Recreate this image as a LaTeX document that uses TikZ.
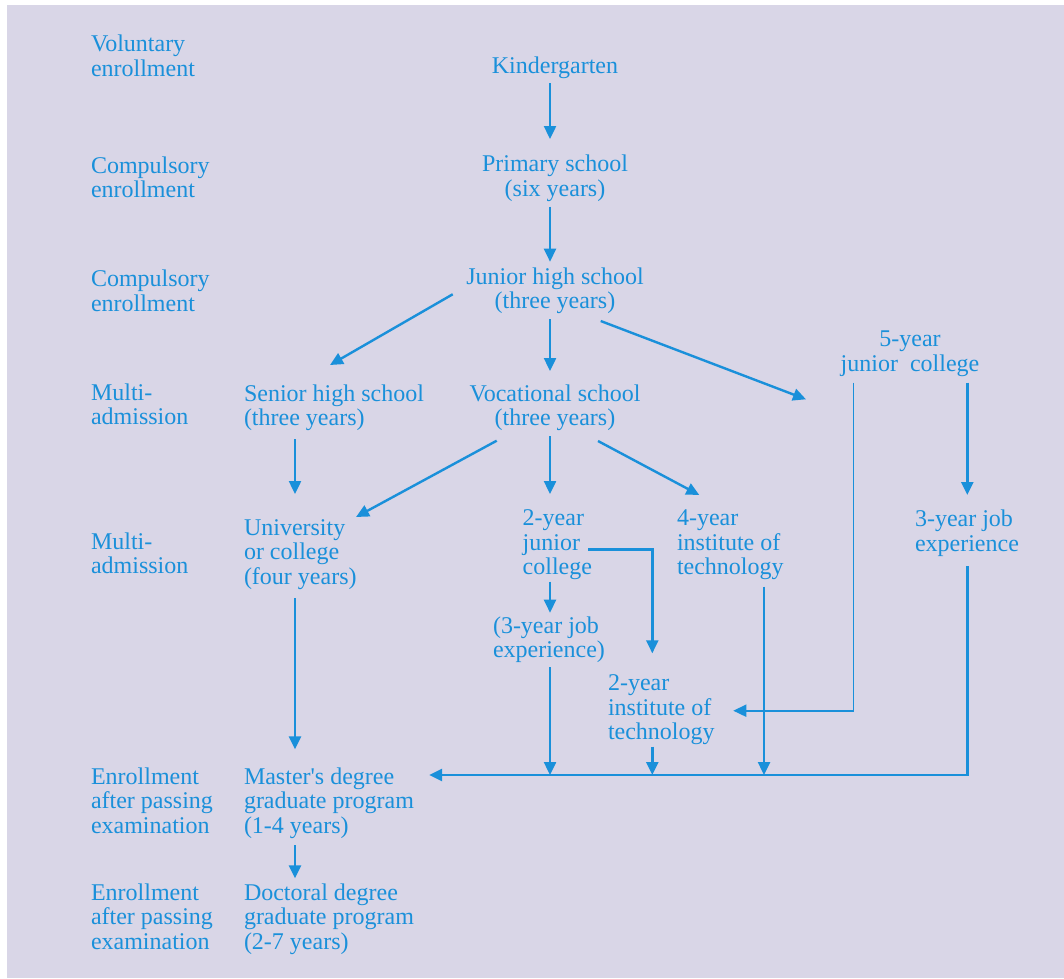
\documentclass[tikz,border=0pt]{standalone}
\usepackage{fontspec}
\setmainfont{Liberation Serif}
\usetikzlibrary{arrows.meta}
\definecolor{bgc}{RGB}{217,214,231}
\definecolor{blu}{RGB}{26,144,218}
\newcommand{\fl}{\rule{0pt}{18pt}}
\newcommand{\dl}{\rule[-6pt]{0pt}{6pt}}
\tikzset{
  lab/.style={font=\fontsize{24}{24.5}\selectfont, text=blu, inner sep=0pt, outer sep=0pt},
  ln/.style={lab, anchor=north west, align=left},
  cn/.style={lab, anchor=north, align=center},
  arr/.style={draw=blu, line width=2.4pt, -{Triangle[length=13pt,width=12pt]}},
  arrthin/.style={draw=blu, line width=1.6pt, -{Triangle[length=13pt,width=12pt]}},
  linethin/.style={draw=blu, line width=1.3pt},
}
\begin{document}
\begin{tikzpicture}[x=1pt,y=-1pt]
\useasboundingbox (0,0) rectangle (1064,978);
\fill[white] (0,0) rectangle (1064,978);
\fill[bgc] (7,5) rectangle (1064,978);

% left column labels
\node[ln] (l1) at (91,33.7) {\fl Voluntary\\enrollment\dl};
\node[ln] (l2) at (91,155.3) {\fl Compulsory\\enrollment\dl};
\node[ln] (l3) at (91,268.7) {\fl Compulsory\\enrollment\dl};
\node[ln] (l4) at (91,382) {\fl Multi-\\admission\dl};
\node[ln] (l5) at (91,531) {\fl Multi-\\admission\dl};
\node[ln] (l6) at (91,766) {\fl Enrollment\\after passing\\examination\dl};
\node[ln] (l7) at (91,882) {\fl Enrollment\\after passing\\examination\dl};

% main nodes
\node[cn] (kg) at (555,55) {\fl Kindergarten\dl};
\node[cn] (ps) at (555,153.7) {\fl Primary school\\(six years)\dl};
\node[cn] (jh) at (555,266) {\fl Junior high school\\(three years)\dl};
\node[cn] (voc) at (555,383) {\fl Vocational school\\(three years)\dl};
\node[cn] (fy) at (910,328.7) {\fl 5-year\\junior \ college\dl};
\node[ln] (sh) at (244,383) {\fl Senior high school\\(three years)\dl};
\node[ln] (un) at (244,517) {\fl University\\or college\\(four years)\dl};
\node[ln] (jc2) at (522.7,507.7) {\fl 2-year\\junior\\college\dl};
\node[ln] (it4) at (677,507.7) {\fl 4-year\\institute of\\technology\dl};
\node[ln] (job) at (915,508.7) {\fl 3-year job\\experience\dl};
\node[ln] (jobp) at (493,615.3) {\fl (3-year job\\experience)\dl};
\node[ln] (it2) at (608,672.7) {\fl 2-year\\institute of\\technology\dl};
\node[ln] (ms) at (244,766.3) {\fl Master\textquotesingle s degree\\graduate program\\(1-4 years)\dl};
\node[ln] (dr) at (244,882) {\fl Doctoral degree\\graduate program\\(2-7 years)\dl};

% connectors
\draw[arr] ([xshift=-5pt,yshift=-4pt]kg.south) -- ([xshift=-5pt,yshift=14.7pt]ps.north);
\draw[arr] ([xshift=-5pt,yshift=-4.5pt]ps.south) -- ([xshift=-5pt,yshift=4.3pt]jh.north);
\draw[arr] ([xshift=-13.6pt,yshift=-4pt]jh.west) -- ([xshift=86pt,yshift=18pt]sh.north west);
\draw[arr] ([xshift=-5pt,yshift=-4.5pt]jh.south) -- ([xshift=-5pt,yshift=12pt]voc.north);
\draw[arr] ([xshift=45.7pt,yshift=-6.5pt]jh.south) -- ([xshift=-34.7pt,yshift=-22.1pt]fy.south west);
\draw[arr] ([xshift=51pt,yshift=-7.8pt]sh.south west) -- ([xshift=51pt,yshift=23pt]un.north west);
\draw[arr] ([xshift=-58.3pt,yshift=-9.2pt]voc.south) -- ([xshift=-0.6pt]un.north east);
\draw[arr] ([xshift=-5pt,yshift=-4.5pt]voc.south) -- ([xshift=27.3pt,yshift=13.7pt]jc2.north west);
\draw[arr] ([xshift=43pt,yshift=-9.5pt]voc.south) -- ([xshift=22.3pt,yshift=12.7pt]it4.north west);
\draw[arr] ([xshift=57.3pt,yshift=-5.5pt]fy.south) -- ([xshift=52.3pt,yshift=13.7pt]job.north west);
\draw[arrthin] ([xshift=-56.7pt,yshift=-5.5pt]fy.south) |- ([xshift=18.6pt,yshift=-1.5pt]it2.east);
\draw[arr] ([xshift=-3.7pt,yshift=-5.1pt]jc2.east) -| ([xshift=44.3pt,yshift=19.4pt]it2.north west);
\draw[arr] ([xshift=27.3pt,yshift=-1pt]jc2.south west) -- ([xshift=57pt,yshift=2.6pt]jobp.north west);
\draw[arr] ([xshift=51pt,yshift=-8pt]un.south west) -- ([xshift=51pt,yshift=17pt]ms.north west);
\draw[arr] ([xshift=51pt,yshift=-5.7pt]ms.south west) -- ([xshift=51pt,yshift=3.7pt]dr.north west);
\draw[arr,line width=2.7pt] ([xshift=52.3pt,yshift=-8.8pt]job.south west) |- ([xshift=15.3pt,yshift=-8.7pt]ms.north east) coordinate (mt);
\draw[arr] ([xshift=57pt,yshift=-3.5pt]jobp.south west) coordinate (p17) -- (p17 |- mt);
\draw[arr] ([xshift=44.3pt,yshift=-1pt]it2.south west) coordinate (p18) -- (p18 |- mt);
\draw[linethin] ([xshift=87pt,yshift=-6pt]it4.south west) -- ++(0,128.3) coordinate (p19);
\draw[arr] (p19) -- (p19 |- mt);
\end{tikzpicture}
\end{document}
